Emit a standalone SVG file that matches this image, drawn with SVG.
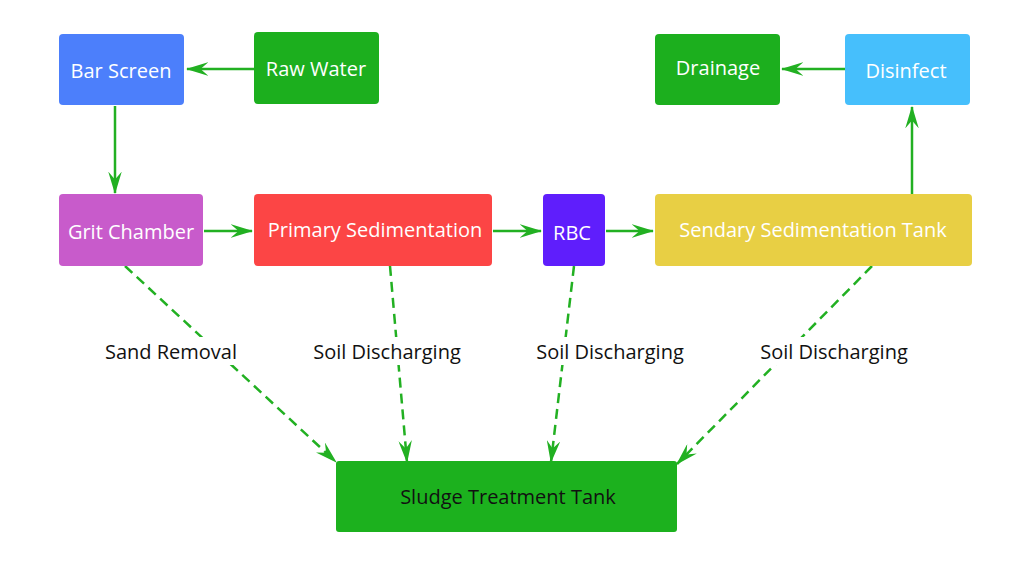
<svg xmlns="http://www.w3.org/2000/svg" width="1024" height="566" viewBox="0 0 1024 566">
<style>
.t{font-family:"Open Sans","Noto Sans","Liberation Sans",sans-serif;font-size:20px;fill:#fff;text-anchor:middle;dominant-baseline:central}
.l{font-family:"Open Sans","Noto Sans","Liberation Sans",sans-serif;font-size:20px;fill:#111;text-anchor:middle;dominant-baseline:central}
.c{stroke:#22b022;stroke-width:2.5;fill:none;marker-end:url(#ah)}
.d{stroke-dasharray:10,6}
</style>
<defs>
<marker id="ah" viewBox="0 0 20 12" refX="19" refY="6" markerWidth="9" markerHeight="5.4" markerUnits="strokeWidth" orient="auto">
<path d="M0,0 L20,6 L0,12 L7,6 z" fill="#22b022"/>
</marker>
</defs>
<rect width="1024" height="566" fill="#fff"/>
<g id="connectors">
<line class="c" x1="254" y1="69" x2="187" y2="69"/>
<line class="c" x1="845" y1="69" x2="782" y2="69"/>
<line class="c" x1="115" y1="106" x2="115" y2="193"/>
<line class="c" x1="912" y1="194" x2="912" y2="107"/>
<line class="c" x1="204" y1="231" x2="252" y2="231"/>
<line class="c" x1="493" y1="231" x2="541" y2="231"/>
<line class="c" x1="606" y1="231" x2="653" y2="231"/>
<line class="c d" x1="125" y1="266" x2="336" y2="462"/>
<line class="c d" x1="390" y1="266" x2="407" y2="462"/>
<line class="c d" x1="574" y1="266" x2="551" y2="462"/>
<line class="c d" x1="872" y1="266" x2="677" y2="464"/>
<g id="labels">
<rect x="98" y="337" width="146" height="28" fill="#fff"/>
<text class="l" x="171" y="351">Sand Removal</text>
<rect x="305" y="337" width="164" height="28" fill="#fff"/>
<text class="l" x="387" y="351">Soil Discharging</text>
<rect x="528" y="337" width="164" height="28" fill="#fff"/>
<text class="l" x="610" y="351">Soil Discharging</text>
<rect x="752" y="337" width="164" height="28" fill="#fff"/>
<text class="l" x="834" y="351">Soil Discharging</text>
</g>
</g>
<g id="bar-screen"><rect x="59" y="34" width="125" height="71" rx="4" fill="#4c7ffb"/><text class="t" x="121" y="70">Bar Screen</text></g>
<g id="raw-water"><rect x="254" y="32" width="125" height="72" rx="4" fill="#1caf1e"/><text class="t" x="316" y="68">Raw Water</text></g>
<g id="drainage"><rect x="655" y="34" width="125" height="71" rx="4" fill="#1caf1e"/><text class="t" x="718" y="67">Drainage</text></g>
<g id="disinfect"><rect x="845" y="34" width="125" height="71" rx="4" fill="#46bffc"/><text class="t" x="906" y="70">Disinfect</text></g>
<g id="grit-chamber"><rect x="59" y="194" width="144" height="72" rx="4" fill="#c85bcb"/><text class="t" x="131" y="231">Grit Chamber</text></g>
<g id="primary-sedimentation"><rect x="254" y="194" width="238" height="72" rx="4" fill="#fc4545"/><text class="t" x="375" y="229">Primary Sedimentation</text></g>
<g id="rbc"><rect x="543" y="194" width="62" height="72" rx="4" fill="#5f1efc"/><text class="t" x="572" y="232">RBC</text></g>
<g id="sendary-sedimentation-tank"><rect x="655" y="194" width="317" height="72" rx="4" fill="#e8cf44"/><text class="t" x="813" y="229">Sendary Sedimentation Tank</text></g>
<g id="sludge-treatment-tank"><rect x="336" y="461" width="341" height="71" rx="3" fill="#1cb11e"/><text class="l" x="508" y="496">Sludge Treatment Tank</text></g>
</svg>
